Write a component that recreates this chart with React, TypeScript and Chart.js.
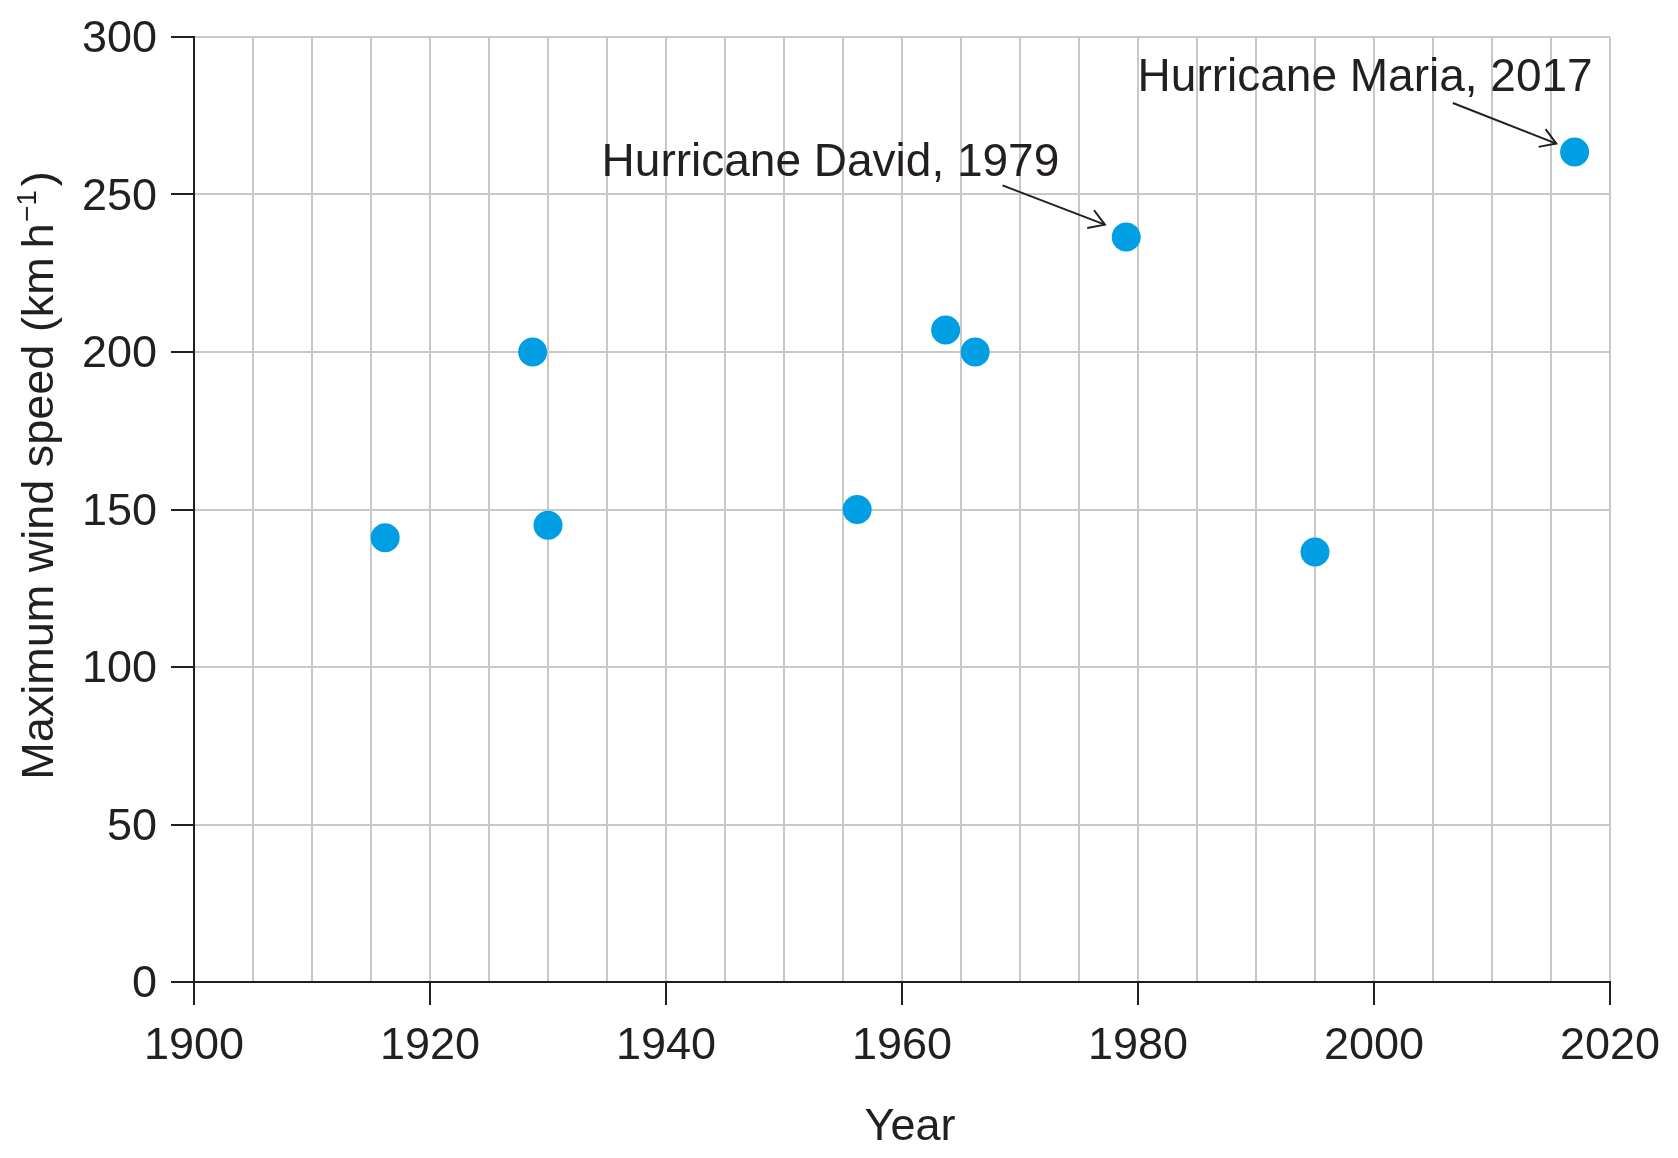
import React, { useEffect, useRef } from "react";
import { Chart, registerables } from "chart.js";

Chart.register(...registerables);

// Landfall year and peak sustained wind for each hurricane
const years = [1916.2, 1928.7, 1930.0, 1956.2, 1963.7, 1966.2, 1979, 1995.0, 2017];
const maxWindSpeeds = [141, 200, 145, 150, 207, 200, 236.5, 136.5, 263.5];

// Axis ranges and tick steps
const xRange = [1900, 2020];
const xGridStep = 5;
const xLabelStep = 20;
const yRange = [0, 300];
const yStep = 50;

// Named storms called out on the plot (index into the series above)
const calloutIndex = [6, 8];
const calloutText = ["Hurricane David, 1979", "Hurricane Maria, 2017"];

const xTitle = "Year";
const yTitleMain = "Maximum wind speed (km\u2009h";
const yTitleSup = "\u22121";
const yTitleEnd = ")";

// ---- styling ----
const INK = "#231f20";
const GRID = "#c8c8c8";
const DOT = "#009fe3";
const FONT = '"Liberation Sans", Arial, Helvetica, sans-serif';
const W = 1678;
const H = 1158;

// pixel offsets from each called-out point: label baseline, arrow tail, arrow tip
const calloutLayout = [
  { tx: -524.6, ty: -60.7, fx: -123.7, fy: -51.7, hx: -21.3, hy: -12.4 },
  { tx: -437, ty: -60.7, fx: -121.7, fy: -49, hx: -18.3, hy: -8.4 },
];

const overlayPlugin = {
  id: "overlay",
  afterDraw(chart: any) {
    const { ctx, chartArea, scales } = chart;
    const xs = scales.x;
    const ys = scales.y;
    ctx.save();
    ctx.fillStyle = INK;
    ctx.strokeStyle = INK;

    // callouts with open arrowheads
    calloutIndex.forEach((idx, i) => {
      const L = calloutLayout[i];
      const px = xs.getPixelForValue(years[idx]);
      const py = ys.getPixelForValue(maxWindSpeeds[idx]);
      ctx.font = `46px ${FONT}`;
      ctx.textAlign = "left";
      ctx.textBaseline = "alphabetic";
      ctx.fillText(calloutText[i], px + L.tx, py + L.ty);

      const sx = px + L.fx, sy = py + L.fy;
      const ex = px + L.hx, ey = py + L.hy;
      ctx.lineWidth = 2;
      ctx.lineCap = "butt";
      ctx.beginPath();
      ctx.moveTo(sx, sy);
      ctx.lineTo(ex, ey);
      ctx.stroke();
      const ang = Math.atan2(ey - sy, ex - sx);
      const len = 18;
      const spread = (32 * Math.PI) / 180;
      ctx.beginPath();
      ctx.moveTo(ex - len * Math.cos(ang - spread), ey - len * Math.sin(ang - spread));
      ctx.lineTo(ex, ey);
      ctx.lineTo(ex - len * Math.cos(ang + spread), ey - len * Math.sin(ang + spread));
      ctx.stroke();
    });

    // x-axis title
    ctx.font = `45px ${FONT}`;
    ctx.textAlign = "center";
    ctx.textBaseline = "alphabetic";
    ctx.fillText(xTitle, (chartArea.left + chartArea.right) / 2 + 8, 1140);

    // y-axis title with superscript unit
    const mainFont = `45px ${FONT}`;
    const supFont = `28px ${FONT}`;
    ctx.font = mainFont;
    const wMain = ctx.measureText(yTitleMain).width;
    const wEnd = ctx.measureText(yTitleEnd).width;
    ctx.font = supFont;
    const wSup = ctx.measureText(yTitleSup).width;
    const gapBefore = 1;
    const gapAfter = 4;
    const total = wMain + gapBefore + wSup + gapAfter + wEnd;
    ctx.translate(52.7, 475.5);
    ctx.rotate(-Math.PI / 2);
    ctx.textAlign = "left";
    let cx = -total / 2;
    ctx.font = mainFont;
    ctx.fillText(yTitleMain, cx, 0);
    cx += wMain + gapBefore;
    ctx.font = supFont;
    ctx.fillText(yTitleSup, cx, -17);
    cx += wSup + gapAfter;
    ctx.font = mainFont;
    ctx.fillText(yTitleEnd, cx, 0);
    ctx.restore();
  },
};

export default function App() {
  const canvasRef = useRef<HTMLCanvasElement | null>(null);

  useEffect(() => {
    const canvas = canvasRef.current;
    if (!canvas) return;
    const points = years.map((yr, i) => ({ x: yr, y: maxWindSpeeds[i] }));

    const chart = new Chart(canvas, {
      type: "scatter",
      data: {
        datasets: [
          {
            data: points,
            backgroundColor: DOT,
            borderWidth: 0,
            pointRadius: 14.5,
            pointHoverRadius: 14.5,
          },
        ],
      },
      options: {
        responsive: false,
        animation: false,
        events: [],
        layout: { padding: { top: 37, right: 68, left: 0, bottom: 0 } },
        plugins: {
          legend: { display: false },
          tooltip: { enabled: false },
          title: { display: false },
        },
        scales: {
          x: {
            type: "linear",
            min: xRange[0],
            max: xRange[1],
            afterFit(scale: any) {
              scale.height = H - 982;
              scale.paddingLeft = 0;
              scale.paddingRight = 0;
            },
            ticks: {
              stepSize: xGridStep,
              autoSkip: false,
              maxRotation: 0,
              minRotation: 0,
              padding: 15,
              color: INK,
              font: { family: FONT, size: 45 },
              callback: (v: any) => (Number(v) % xLabelStep === 0 ? String(v) : ""),
            },
            grid: {
              color: GRID,
              lineWidth: 2,
              drawTicks: true,
              tickLength: 23,
              tickWidth: 2,
              tickColor: (c: any) =>
                c.tick && c.tick.value % xLabelStep === 0 ? INK : "rgba(0,0,0,0)",
            },
            border: { display: true, color: INK, width: 2 },
            title: { display: false },
          },
          y: {
            type: "linear",
            min: yRange[0],
            max: yRange[1],
            afterFit(scale: any) {
              scale.width = 194;
              scale.paddingTop = 0;
              scale.paddingBottom = 0;
            },
            ticks: {
              stepSize: yStep,
              padding: 14,
              labelOffset: 3,
              color: INK,
              font: { family: FONT, size: 45 },
            },
            grid: {
              color: GRID,
              lineWidth: 2,
              drawTicks: true,
              tickLength: 23,
              tickWidth: 2,
              tickColor: INK,
            },
            border: { display: true, color: INK, width: 2 },
            title: { display: false },
          },
        },
      },
      plugins: [overlayPlugin],
    });

    return () => chart.destroy();
  }, []);

  return (
    <div
      style={{
        position: "fixed",
        left: 0,
        top: 0,
        width: W,
        height: H,
        background: "#ffffff",
      }}
    >
      <canvas
        ref={canvasRef}
        width={W}
        height={H}
        style={{ width: W, height: H, display: "block" }}
      />
    </div>
  );
}
